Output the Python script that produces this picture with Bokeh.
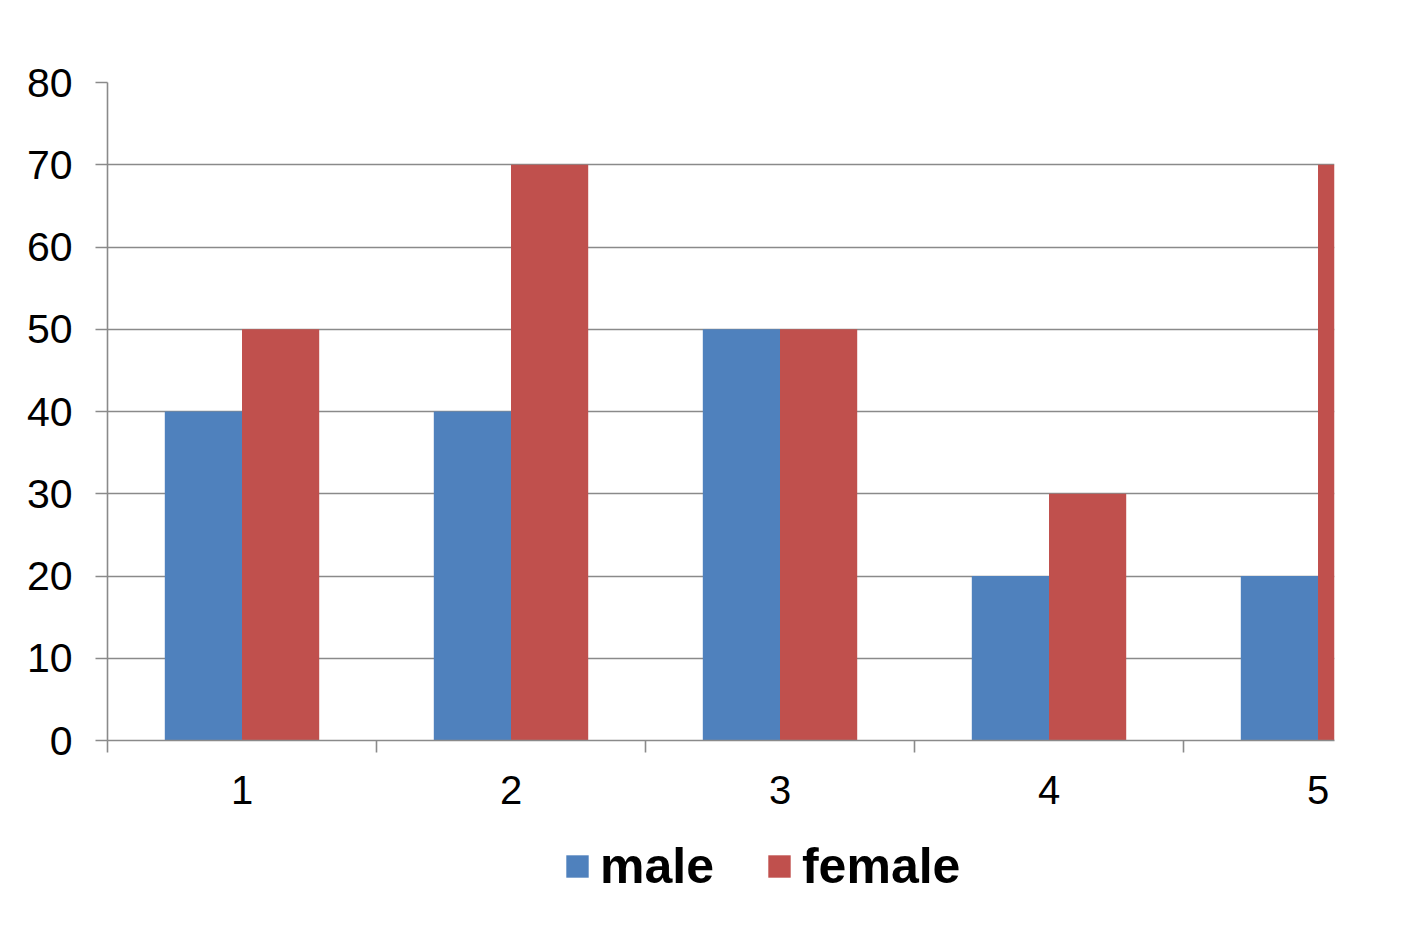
from bokeh.plotting import figure
from bokeh.layouts import column
from bokeh.models import Range1d, FixedTicker, Legend, LegendItem, ColumnDataSource
from bokeh.transform import dodge
from bokeh.embed import file_html
from bokeh.resources import INLINE

categories = [1, 2, 3, 4, 5]
male = [40, 40, 50, 20, 20]
female = [50, 70, 50, 30, 70]
y_ticks = [0, 10, 20, 30, 40, 50, 60, 70, 80]
series_names = ["male", "female"]
series_colors = ["#4F81BD", "#C0504D"]

src = ColumnDataSource(dict(x=categories, male=male, female=female))

p = figure(frame_width=1227, frame_height=658, min_border_left=107, min_border_top=82,
           min_border_right=73, min_border_bottom=80,
           x_range=Range1d(0.5, 5.0613), y_range=Range1d(0, 80),
           output_backend="svg", toolbar_location=None)
p.outline_line_color = None
p.background_fill_color = "white"
p.border_fill_color = "white"

bw = 0.287
r1 = p.vbar(x=dodge("x", -bw / 2), top="male", width=bw, source=src,
            fill_color=series_colors[0], line_color=None)
r2 = p.vbar(x=dodge("x", bw / 2), top="female", width=bw, source=src,
            fill_color=series_colors[1], line_color=None)

grid_col = "#8a8a8a"
p.xgrid.grid_line_color = None
p.ygrid.grid_line_color = grid_col
p.ygrid.grid_line_width = 1.6
p.ygrid.level = "underlay"

p.yaxis.ticker = FixedTicker(ticks=y_ticks)
p.yaxis.axis_line_color = grid_col
p.yaxis.axis_line_width = 1.6
p.yaxis.major_tick_line_color = grid_col
p.yaxis.major_tick_line_width = 1.6
p.yaxis.major_tick_out = 12
p.yaxis.major_tick_in = 0
p.yaxis.minor_tick_line_color = None
p.yaxis.major_label_standoff = 23
p.yaxis.major_label_text_font = "Liberation Sans"
p.yaxis.major_label_text_font_size = "41px"
p.yaxis.major_label_text_color = "black"

p.xaxis.ticker = FixedTicker(ticks=categories, minor_ticks=[0.5, 1.5, 2.5, 3.5, 4.5])
p.xaxis.axis_line_color = grid_col
p.xaxis.axis_line_width = 1.6
p.xaxis.major_tick_line_color = None
p.xaxis.major_tick_out = 0
p.xaxis.major_tick_in = 0
p.xaxis.minor_tick_line_color = grid_col
p.xaxis.minor_tick_line_width = 1.6
p.xaxis.minor_tick_out = 12
p.xaxis.minor_tick_in = 0
p.xaxis.major_label_standoff = 23
p.xaxis.major_label_text_font = "Liberation Sans"
p.xaxis.major_label_text_font_size = "40px"
p.xaxis.major_label_text_color = "black"

# legend strip below the chart (its bars lie outside its visible range)
lg = figure(width=1407, height=112, min_border=0, x_range=(100, 101), y_range=(100, 101),
            output_backend="svg", toolbar_location=None)
lg.axis.visible = False
lg.grid.grid_line_color = None
lg.outline_line_color = None
lg.border_fill_color = "white"
items = []
for name, col in zip(series_names, series_colors):
    rr = lg.vbar(x="x", top=name, width=bw, source=src, fill_color=col, line_color=None)
    items.append(LegendItem(label=name, renderers=[rr]))

legend = Legend(items=items, orientation="horizontal", location=(456, 37),
                label_text_font="Liberation Sans", label_text_font_style="bold",
                label_text_font_size="50px", label_text_color="black",
                glyph_width=28, glyph_height=28, label_standoff=9, spacing=51,
                border_line_color=None, background_fill_alpha=0, padding=0, margin=0)
lg.add_layout(legend, "center")

open("out.html", "w").write(file_html(column(p, lg, spacing=0), INLINE))
